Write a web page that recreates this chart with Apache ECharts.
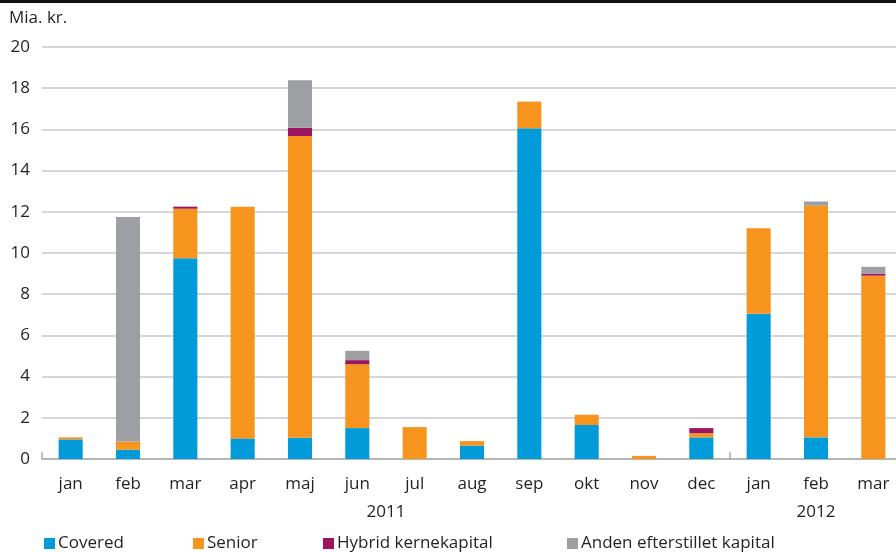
<!DOCTYPE html>
<html>
<head>
<meta charset="utf-8">
<script src="https://cdn.jsdelivr.net/npm/echarts@6/dist/echarts.min.js"></script>
<style>
  html, body { margin: 0; padding: 0; background: #fff; }
  #chart { width: 896px; height: 553px; }
</style>
</head>
<body>
<div id="chart"></div>
<script>
// Monthly issuance, Jan 2011 - Mar 2012 (Mia. kr.)
const months = ['jan','feb','mar','apr','maj','jun','jul','aug','sep','okt','nov','dec','jan','feb','mar'];
const covered = [0.95, 0.45, 9.75, 1.0, 1.03, 1.5, 0, 0.65, 16.05, 1.65, 0, 1.05, 7.05, 1.05, 0];
const senior  = [0.1, 0.4, 2.4, 11.25, 14.65, 3.1, 1.55, 0.22, 1.3, 0.5, 0.15, 0.2, 4.15, 11.25, 8.9];
const hybrid  = [0, 0, 0.1, 0, 0.4, 0.2, 0, 0, 0, 0, 0, 0.25, 0, 0, 0.1];
const anden   = [0, 10.9, 0, 0, 2.3, 0.45, 0, 0, 0, 0, 0, 0, 0, 0.2, 0.33];
const years = ['2011', '2012'];
const yearCenters = [6, 13.5];   // centre of each year's run of months, in category units
const yTicks = [0, 20, 2];       // min, max, step

const seriesNames = ['Covered', 'Senior', 'Hybrid kernekapital', 'Anden efterstillet kapital'];
const seriesData = [covered, senior, hybrid, anden];
const colors = ['#009bd8', '#f7941d', '#9b1560', '#9d9fa2'];
const legendLeft = [44, 193, 323, 567];

const font = '"Open Sans", "Noto Sans", sans-serif';
const ink = '#231f20';
const chart = echarts.init(document.getElementById('chart'));

chart.setOption({
  animation: false,
  textStyle: { fontFamily: font },
  title: {
    text: 'Mia. kr.', left: 9, top: 10, padding: [0, 0, 0, 0],
    textStyle: { fontFamily: font, fontSize: 17, fontWeight: 'normal', color: ink }
  },
  graphic: [{
    type: 'rect', shape: { x: 0, y: 0, width: 896, height: 3 },
    style: { fill: '#111' }, silent: true
  }],
  legend: seriesNames.map((n, i) => ({
    data: [n], left: legendLeft[i], top: 535, padding: 0,
    icon: 'rect', itemWidth: 11, itemHeight: 11, itemGap: 0,
    textStyle: { fontFamily: font, fontSize: 17, color: ink, padding: [0, 0, 0, -2] },
    selectedMode: false
  })),
  // the category band runs a few pixels past the right edge of the canvas
  grid: { left: 42, width: 860, top: 47, bottom: 94, outerBoundsMode: 'none' },
  xAxis: [{
    type: 'category', data: months, boundaryGap: true,
    axisLine: { lineStyle: { color: '#a9aaac', width: 1.5 } },
    axisTick: {
      show: true, inside: true, length: 7, interval: (i) => i === 0 || i === 12,
      lineStyle: { color: '#a9aaac', width: 1.5 }
    },
    axisLabel: { color: ink, fontSize: 17, margin: 17, fontFamily: font }
  }, {
    type: 'value', position: 'bottom', min: 0, max: months.length,
    axisLine: { show: false }, axisTick: { show: false }, splitLine: { show: false },
    axisLabel: {
      customValues: yearCenters, color: ink, fontSize: 17, margin: 45, fontFamily: font,
      formatter: (v) => years[yearCenters.indexOf(v)]
    }
  }],
  yAxis: {
    type: 'value', min: yTicks[0], max: yTicks[1], interval: yTicks[2],
    axisLine: { show: false }, axisTick: { show: false },
    splitLine: { lineStyle: { color: '#c8c8ca', width: 1.5 } },
    axisLabel: { color: ink, fontSize: 17, margin: 12, fontFamily: font }
  },
  series: seriesNames.map((n, i) => ({
    name: n, type: 'bar', stack: 'total', xAxisIndex: 0,
    data: seriesData[i], barWidth: '42%',
    itemStyle: { color: colors[i] }
  }))
});
</script>
</body>
</html>
